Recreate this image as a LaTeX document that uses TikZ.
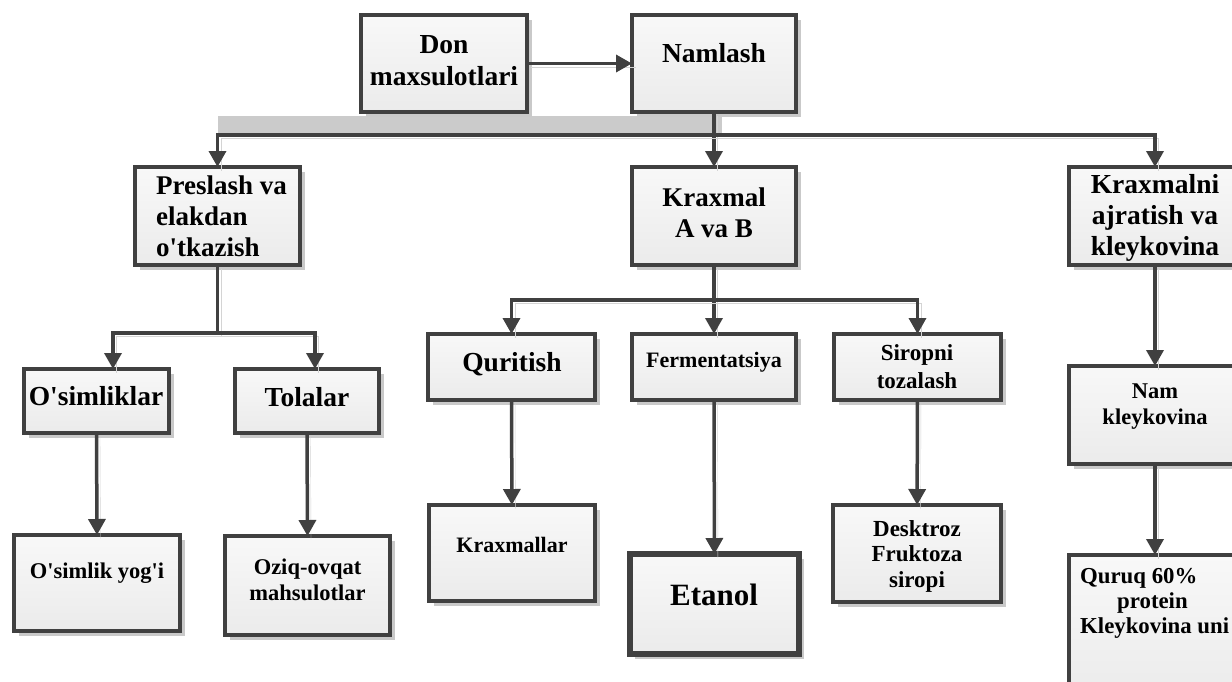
\documentclass[tikz,border=0pt]{standalone}
\usepackage{fontspec}
\setmainfont{Liberation Serif}[Ligatures=TeXOff]
\usetikzlibrary{arrows.meta,shadows}

\definecolor{lineclr}{HTML}{404040}
\definecolor{shadowclr}{HTML}{C9C9C9}
\definecolor{lineshadow}{HTML}{D4D4D4}
\definecolor{boxtop}{HTML}{F8F8F8}
\definecolor{boxbot}{HTML}{EBEBEB}
\definecolor{bandclr}{HTML}{CBCBCB}

\tikzset{
  flowbox/.style={draw=lineclr, line width=3.5pt, top color=boxtop, bottom color=boxbot,
    inner sep=0pt, outer sep=0pt,
    drop shadow={shadow xshift=5pt, shadow yshift=-5pt, fill=shadowclr, opacity=1}},
  boldbox/.style={flowbox, line width=6pt},
  lbl/.style={inner sep=0pt, align=center, text=black},
  link/.style={draw=lineclr, line width=3.5pt,
    preaction={draw=lineshadow, -, transform canvas={shift={(3.5pt,-3.5pt)}}}},
  arr/.style={link, -{Triangle[width=17pt,length=16pt]}},
}
% bold serif text at a given size and line spacing
\newcommand\fs[2]{\fontsize{#1}{#2}\selectfont\bfseries}
% box given by its left, top, right and bottom edges
\newcommand\flowboxat[6][flowbox]{%
  \node[#1, minimum width={#5-#3}, minimum height={#6-#4}] (#2) at ({(#3+#5)/2},{(#4+#6)/2}) {};}

\begin{document}
\begin{tikzpicture}[x=1pt, y=-1pt]
\useasboundingbox (0,0) rectangle (1232,681);
\clip (0,0) rectangle (1232,681);
\fill[white] (0,0) rectangle (1232,681);

% grey band under the first distribution line
\fill[bandclr] (218,116) rectangle (722,133);

% connectors (drawn first so that the boxes sit on top of their ends)
\coordinate (b1) at (714,135);
\coordinate (b2) at (217.5,333);
\coordinate (b3) at (714,300);

% boxes
\flowboxat{don}{361}{15}{527}{112}
\flowboxat{nam}{632}{15}{796}{112}
\flowboxat{pres}{135}{167}{300}{265}
\flowboxat{krax}{632}{167}{796}{265}
\flowboxat{kraxni}{1069}{167}{1241}{265}
\flowboxat{osim}{24}{369}{169}{433}
\flowboxat{tol}{235}{369}{379}{433}
\flowboxat{qur}{428}{334}{595}{400}
\flowboxat{ferm}{632}{334}{796}{400}
\flowboxat{sir}{834}{334}{1001}{400}
\flowboxat{osyog}{14}{535}{180}{631}
\flowboxat{oziq}{225}{536}{390}{635}
\flowboxat{kraxlar}{429}{505}{595}{601}
\flowboxat[boldbox]{etanol}{630}{554}{799}{654}
\flowboxat{desk}{833}{505}{1001}{602}
\flowboxat{namk}{1069}{366}{1241}{464}
\flowboxat{quruq}{1069}{555}{1241}{700}

% labels
\node[lbl, font=\fs{27.5}{32}] (don-t) at (444,61) {Don\\maxsulotlari};
\node[lbl, font=\fs{27.5}{32}] (nam-t) at (714,53) {Namlash};
\node[lbl, align=left, anchor=west, font=\fs{27}{31}] (pres-t) at (156,216) {Preslash va\\elakdan\\o'tkazish};
\node[lbl, font=\fs{27}{31}] (krax-t) at (714,213) {Kraxmal\\A va B};
\node[lbl, font=\fs{27.5}{31}] (kraxni-t) at (1155,218) {Kraxmalni\\ajratish va\\kleykovina};
\node[lbl, font=\fs{27.5}{31}] (osim-t) at (96,396) {O'simliklar};
\node[lbl, font=\fs{27.5}{31}] (tol-t) at (307,397) {Tolalar};
\node[lbl, font=\fs{27.5}{31}] (qur-t) at (512,364) {Quritish};
\node[lbl, font=\fs{22}{26}] (ferm-t) at (714,362) {Fermentatsiya};
\node[lbl, font=\fs{23}{28}] (sir-t) at (917,367) {Siropni\\tozalash};
\node[lbl, font=\fs{22.5}{26}] (osyog-t) at (97,573) {O'simlik yog'i};
\node[lbl, font=\fs{22.5}{26}] (oziq-t) at (307.5,580) {Oziq-ovqat\\mahsulotlar};
\node[lbl, font=\fs{22}{26}] (kraxlar-t) at (512,545) {Kraxmallar};
\node[lbl, font=\fs{31}{35}] (etanol-t) at (714,595) {Etanol};
\node[lbl, font=\fs{23}{25.5}] (desk-t) at (917,556) {Desktroz\\Fruktoza\\siropi};
\node[lbl, font=\fs{22.5}{26}] (namk-t) at (1155,407) {Nam\\kleykovina};
\node[lbl, align=left, anchor=north west, font=\fs{22.8}{25}] (quruq-t) at (1080,568)
  {Quruq 60\%\\\hspace*{37pt}protein\\Kleykovina uni};

% connectors
\draw[arr] (don) -- (nam);
\draw[arr] (nam) -- (krax);
\draw[arr] (b1) -| (pres.north);
\draw[arr] (b1) -| (kraxni.north);

\draw[link] (pres.south) -- (b2);
\draw[arr] (b2) -| ([xshift=16.5pt]osim.north);
\draw[arr] (b2) -| ([xshift=8pt]tol.north);
\draw[arr] (osim.south) -- (osyog.north);
\draw[arr] (tol.south) -- (oziq.north);

\draw[arr] (krax) -- (ferm);
\draw[arr] (b3) -| (qur.north);
\draw[arr] (b3) -| (sir.north);
\draw[arr] (qur) -- (kraxlar);
\draw[arr] (ferm) -- (etanol);
\draw[arr] (sir) -- (desk);

\draw[arr] (kraxni.south) -- (namk.north);
\draw[arr] (namk.south) -- (quruq.north);
\end{tikzpicture}
\end{document}
